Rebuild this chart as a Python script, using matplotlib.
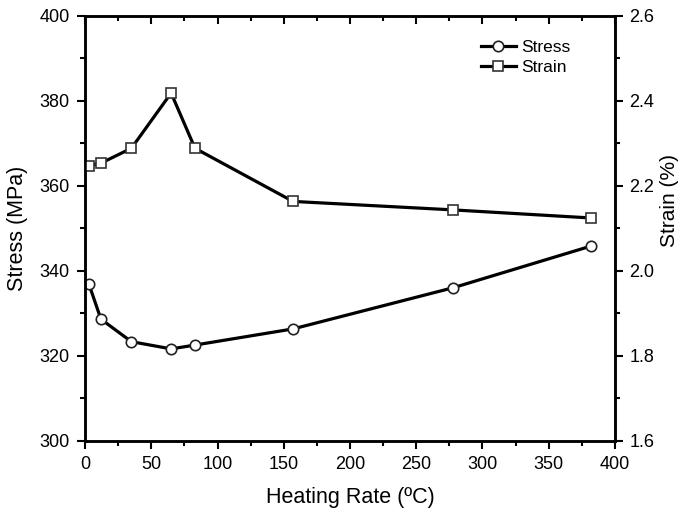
import matplotlib.pyplot as plt
from matplotlib.ticker import MultipleLocator

plt.rcParams['font.family'] = ['Liberation Sans', 'DejaVu Sans']

# data
heating_rate = [3, 12, 35, 65, 83, 157, 278, 382]
stress = [336.8, 328.6, 323.3, 321.6, 322.5, 326.3, 336.0, 345.8]
strain = [2.247, 2.253, 2.288, 2.418, 2.288, 2.163, 2.143, 2.124]

fig = plt.figure(figsize=(6.79, 5.11), dpi=100)
ax = fig.add_axes([0.1252, 0.1376, 0.7805, 0.8317])
ax2 = ax.twinx()

l1, = ax.plot(heating_rate, stress, '-o', color='black', lw=2.3, ms=7.5,
              mfc='white', mec='#222222', mew=1.2, label='Stress')
l2, = ax2.plot(heating_rate, strain, '-s', color='black', lw=2.3, ms=7,
               mfc='white', mec='#333333', mew=1.2, label='Strain')

ax.set_xlim(0, 400)
ax.set_ylim(300, 400)
ax2.set_ylim(1.6, 2.6)

ax.xaxis.set_major_locator(MultipleLocator(50))
ax.xaxis.set_minor_locator(MultipleLocator(25))
ax.yaxis.set_major_locator(MultipleLocator(20))
ax.yaxis.set_minor_locator(MultipleLocator(10))
ax2.yaxis.set_major_locator(MultipleLocator(0.2))
ax2.yaxis.set_minor_locator(MultipleLocator(0.1))

for a in (ax, ax2):
    for s in a.spines.values():
        s.set_linewidth(1.8)

ax.tick_params(axis='x', which='major', direction='out', length=6, width=1.5,
               labelsize=13, pad=5, top=True)
ax.tick_params(axis='x', which='minor', direction='out', length=3.5, width=1.5, top=True)
ax.tick_params(axis='y', which='major', direction='out', length=6, width=1.5,
               labelsize=13, pad=5)
ax.tick_params(axis='y', which='minor', direction='out', length=3.5, width=1.5)
ax2.tick_params(axis='y', which='major', direction='out', length=6, width=1.5,
                labelsize=13, pad=4.5, colors='black')
ax2.tick_params(axis='y', which='minor', direction='out', length=3.5, width=1.5)
ax.tick_params(axis='x', which='both', top=True, labeltop=False)
for t in ax.xaxis.get_ticklines(minor=False)[1::2] + ax.xaxis.get_ticklines(minor=True)[1::2]:
    t.set_marker(3)

ax.set_xlabel('Heating Rate (ºC)', fontsize=15.5, labelpad=10)
ax.set_ylabel('Stress (MPa)', fontsize=15.5, labelpad=8)
ax2.set_ylabel('Strain (%)', fontsize=15)
ax2.yaxis.set_label_coords(1.085, 0.565)

ax.legend([l1, l2], ['Stress', 'Strain'], loc='upper right',
          bbox_to_anchor=(0.945, 0.98), frameon=False, fontsize=12.5,
          handlelength=2.0, handletextpad=0.3, labelspacing=0.3)

fig.savefig('out.png', dpi=100)
